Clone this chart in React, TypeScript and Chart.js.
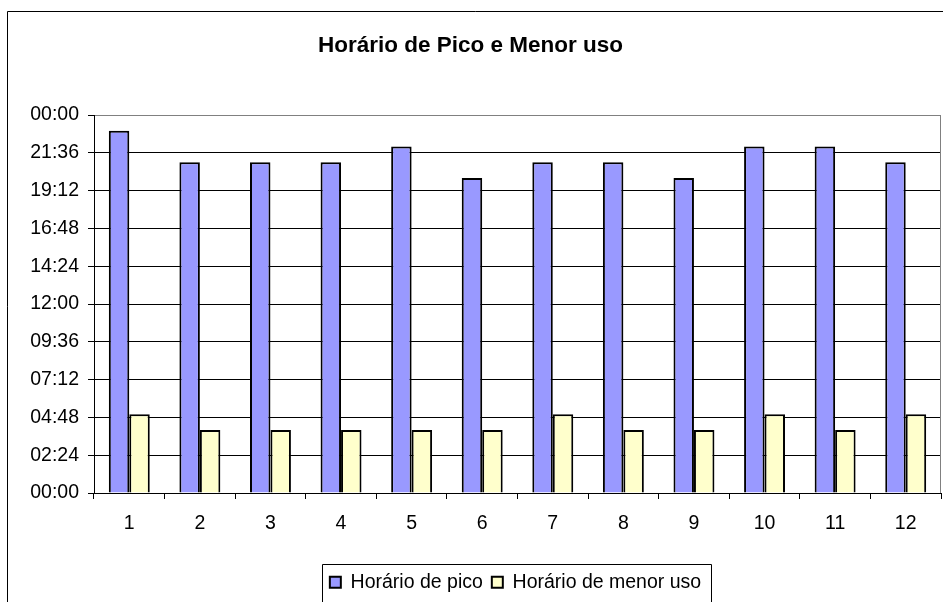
import React, { useEffect, useRef } from "react";
import { Chart, registerables } from "chart.js";

Chart.register(...registerables);

const categories = ["1", "2", "3", "4", "5", "6", "7", "8", "9", "10", "11", "12"];
const picoTimes = ["23:00", "21:00", "21:00", "21:00", "22:00", "20:00", "21:00", "21:00", "20:00", "22:00", "22:00", "21:00"];
const menorTimes = ["05:00", "04:00", "04:00", "04:00", "04:00", "04:00", "05:00", "04:00", "04:00", "05:00", "04:00", "05:00"];
const seriesNames = ["Horário de pico", "Horário de menor uso"];
const titleText = "Horário de Pico e Menor uso";
const yMin = 0;
const yMax = 1440;
const yStep = 144;

const toMinutes = (t: string) => {
  const [h, m] = t.split(":").map(Number);
  return h * 60 + m;
};
const fmt = (v: number) => {
  const m = Math.round(v) % 1440;
  const hh = Math.floor(m / 60);
  const mm = m % 60;
  return String(hh).padStart(2, "0") + ":" + String(mm).padStart(2, "0");
};

const FONT = "'Liberation Sans', Arial, sans-serif";
const LEGEND_SHIFT = 45;

const framePlugin = {
  id: "framePlugin",
  afterLayout(chart: any) {
    const lg = chart.legend;
    if (lg) {
      lg.left += LEGEND_SHIFT;
      lg.right += LEGEND_SHIFT;
    }
  },
  afterDraw(chart: any) {
    const ctx = chart.ctx;
    const a = chart.chartArea;
    ctx.save();
    // outer frame
    ctx.strokeStyle = "#000";
    ctx.lineWidth = 1;
    ctx.beginPath();
    ctx.moveTo(7.5, 602);
    ctx.lineTo(7.5, 11.5);
    ctx.lineTo(943, 11.5);
    ctx.stroke();
    // plot area right border
    ctx.strokeStyle = "#808080";
    ctx.beginPath();
    ctx.moveTo(Math.round(a.right) - 0.5, a.top);
    ctx.lineTo(Math.round(a.right) - 0.5, a.bottom);
    ctx.stroke();
    // legend frame
    const lg = chart.legend;
    if (lg && lg.legendHitBoxes && lg.legendHitBoxes.length) {
      const hb = lg.legendHitBoxes;
      const left = Math.min(...hb.map((b: any) => b.left)) - 8;
      const right = Math.max(...hb.map((b: any) => b.left + b.width)) + 10;
      const top = Math.min(...hb.map((b: any) => b.top)) - 9;
      ctx.strokeStyle = "#000";
      ctx.beginPath();
      ctx.moveTo(Math.round(left) + 0.5, 602);
      ctx.lineTo(Math.round(left) + 0.5, Math.round(top) + 0.5);
      ctx.lineTo(Math.round(right) + 0.5, Math.round(top) + 0.5);
      ctx.lineTo(Math.round(right) + 0.5, 602);
      ctx.stroke();
    }
    ctx.restore();
  },
};

export default function App() {
  const ref = useRef<HTMLCanvasElement | null>(null);
  useEffect(() => {
    if (!ref.current) return;
    const chart = new Chart(ref.current, {
      type: "bar",
      data: {
        labels: categories,
        datasets: [
          {
            label: seriesNames[0],
            data: picoTimes.map(toMinutes),
            backgroundColor: "#9999FF",
            borderColor: "#000",
            borderWidth: 2,
          },
          {
            label: seriesNames[1],
            data: menorTimes.map(toMinutes),
            backgroundColor: "#FFFFCC",
            borderColor: "#000",
            borderWidth: 2,
          },
        ],
      },
      options: {
        animation: false,
        responsive: false,
        maintainAspectRatio: false,
        layout: { padding: { left: 0, right: 2, top: 0, bottom: 0 } },
        datasets: { bar: { categoryPercentage: 0.58, barPercentage: 1.0 } },
        plugins: {
          title: {
            display: true,
            text: titleText,
            color: "#000",
            font: { family: FONT, size: 22.5, weight: "bold", lineHeight: 1.2 },
            padding: { top: 32, bottom: 56 },
          },
          legend: {
            display: true,
            position: "bottom",
            labels: {
              color: "#000",
              font: { family: FONT, size: 19.5 },
              boxWidth: 11,
              boxHeight: 11,
              padding: 9,
            },
          },
          tooltip: { enabled: false },
        },
        scales: {
          x: {
            offset: true,
            grid: {
              display: true,
              drawOnChartArea: false,
              drawTicks: true,
              tickLength: 6,
              offset: true,
              color: "#000",
            },
            border: { display: true, color: "#000", width: 1 },
            ticks: { color: "#000", font: { family: FONT, size: 19.5 }, padding: 13, maxRotation: 0 },
            afterFit: (s: any) => {
              s.height = 70.5;
            },
          },
          y: {
            min: yMin,
            max: yMax,
            grid: {
              color: (c: any) => (c.tick && c.tick.value === yMax ? "#808080" : "#000"),
              tickColor: "#000",
              tickLength: 6,
              lineWidth: 1,
            },
            border: { display: true, color: "#000", width: 1 },
            ticks: {
              stepSize: yStep,
              color: "#000",
              font: { family: FONT, size: 19.5 },
              padding: 9,
              callback: (v: any) => fmt(Number(v)),
            },
            afterFit: (s: any) => {
              s.width = 94;
            },
          },
        },
      },
      plugins: [framePlugin],
    });
    return () => chart.destroy();
  }, []);
  return (
    <div style={{ position: "absolute", left: 0, top: 0, width: 943, height: 602, background: "#fff" }}>
      <canvas ref={ref} width={943} height={602} style={{ display: "block", width: 943, height: 602 }} />
    </div>
  );
}
